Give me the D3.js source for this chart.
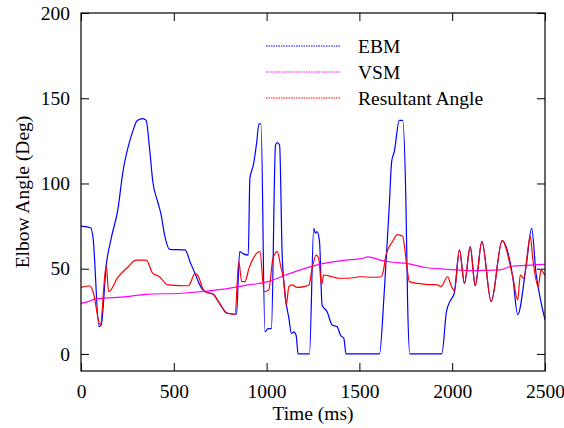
<!DOCTYPE html>
<html>
<head>
<meta charset="utf-8">
<script src="https://cdn.jsdelivr.net/npm/d3@7"></script>
<style>
  body { margin: 0; background: #fff; }
  text { font-family: "Liberation Serif", "Times New Roman", serif; font-size: 19.5px; fill: #000; }
</style>
</head>
<body>
<div id="chart"></div>
<script>
// values (time in ms, angle in degrees)
const ebmTime = [0, 52, 65, 97, 109, 136, 163, 199, 226, 253, 280, 303, 333, 351, 369, 387, 414, 432, 450, 477,
  561, 588, 615, 650, 669, 713, 740, 758, 785, 838, 855, 875, 901, 910, 929, 946, 959, 970, 991, 1005,
  1026, 1048, 1057, 1070, 1084, 1102, 1120, 1134, 1147, 1159, 1170, 1231, 1254, 1263, 1272, 1285, 1299, 1326, 1353, 1380,
  1398, 1416, 1428, 1608, 1634, 1661, 1674, 1688, 1715, 1733, 1751, 1760, 1772, 1944, 1969, 1987, 2011, 2039, 2066, 2097,
  2124, 2160, 2210, 2269, 2326, 2353, 2400, 2428, 2452, 2478, 2500];
const ebmAngle = [75, 74, 68, 16, 17, 52, 68, 85, 107, 121, 131, 137, 138, 137, 121, 101, 89, 81.5, 70, 61.4,
  61, 54, 47, 38.5, 36.5, 35, 30.7, 27.7, 24, 23.3, 60, 58.7, 58, 103, 111, 123.6, 135, 135, 13, 14.7,
  15, 122.6, 124, 122.6, 58, 32.6, 21, 12, 13, 11, 0, 0, 73.7, 70.8, 71.7, 66, 28.7, 24.8, 17, 16,
  11, 9.2, 0, 0, 36.5, 87, 113, 118.7, 137, 137, 87, 28.7, 0, 0, 24.8, 30.7, 35.6, 61, 41.4, 63,
  40, 66, 30.7, 66.5, 45.3, 23, 53, 73.7, 47, 30.7, 20];

const vsmTime = [0, 38, 74, 244, 351, 543, 767, 902, 1009, 1102, 1263, 1425, 1514, 1545, 1625, 1679, 1760, 1858, 1966,
  2120, 2254, 2326, 2443, 2500];
const vsmAngle = [29.7, 30.7, 32.2, 33.6, 35, 35.6, 38, 40.5, 42.4, 46.3, 52, 55, 56, 57, 54.7, 53.8, 53, 50.7, 49.7,
  48.9, 49.3, 51.6, 52.2, 52.6];

const resTime = [0, 47, 65, 104, 136, 149, 199, 253, 297, 351, 387, 423, 468, 579, 615, 633, 660, 669, 713, 740,
  758, 785, 830, 850, 866, 883, 905, 964, 987, 1012, 1034, 1057, 1075, 1093, 1106, 1120, 1138, 1165, 1201, 1228,
  1245, 1267, 1281, 1296, 1308, 1353, 1389, 1443, 1505, 1572, 1617, 1629, 1643, 1679, 1706, 1733, 1755, 1769, 1814, 1858,
  1921, 1939, 1975, 1993, 2012, 2039, 2066, 2097, 2124, 2160, 2210, 2269, 2326, 2353, 2367, 2385, 2421, 2434, 2464, 2478, 2500];
const resAngle = [39, 40, 36.5, 17, 52, 36.5, 45, 51, 55, 55, 47.3, 45.3, 40.5, 40, 47.3, 45.3, 37.5, 36.5, 35, 30.7,
  27.7, 24, 23.3, 54, 42.4, 42.4, 50.2, 60, 36.5, 37.5, 56, 60, 52, 42.4, 28.7, 39.5, 40.5, 39, 39.5, 40.5,
  50, 58, 56, 40.5, 46.3, 45.3, 44.4, 44.4, 45.3, 45, 45.3, 48.7, 58, 66, 70, 69, 52, 42.4, 41.4, 40.8,
  40.5, 39.5, 45.3, 40.5, 37, 61, 41.4, 63, 40, 66, 30.7, 66.5, 45.3, 31.7, 46.3, 44.4, 69, 56, 39.5, 49, 46];

const seriesNames = ["EBM", "VSM", "Resultant Angle"];
const seriesColors = ["#0000ff", "#ff00ff", "#ff0000"];
const xTicks = [0, 500, 1000, 1500, 2000, 2500];
const yTicks = [0, 50, 100, 150, 200];

const width = 564, height = 428;
const margin = {left: 81, right: 19, top: 13, bottom: 57};

const svg = d3.select("#chart").append("svg")
  .attr("width", width)
  .attr("height", height);

const x = d3.scaleLinear().domain([0, 2500]).range([margin.left, width - margin.right]);
const y = d3.scaleLinear().domain([-10, 200]).range([height - margin.bottom, margin.top]);

svg.append("clipPath").attr("id", "plotClip")
  .append("rect")
  .attr("x", x(0)).attr("y", y(200))
  .attr("width", x(2500) - x(0)).attr("height", y(-10) - y(200));

const series = [
  {t: ebmTime, v: ebmAngle},
  {t: vsmTime, v: vsmAngle},
  {t: resTime, v: resAngle}
];

const line = d3.line()
  .x(d => x(d[0]))
  .y(d => y(d[1]))
  .curve(d3.curveMonotoneX);

const plot = svg.append("g").attr("clip-path", "url(#plotClip)");
series.forEach((s, i) => {
  plot.append("path")
    .datum(s.t.map((t, j) => [t, s.v[j]]))
    .attr("d", line)
    .attr("fill", "none")
    .attr("stroke", seriesColors[i])
    .attr("stroke-width", 1.2);
});

// axes, ticks mirrored inward on all four sides
const tickLen = 8;
svg.append("g")
  .attr("transform", "translate(0," + y(-10) + ")")
  .call(d3.axisBottom(x).tickValues(xTicks).tickSize(-tickLen).tickPadding(13).tickFormat(d3.format("d")))
  .call(g => g.select(".domain").remove());
svg.append("g")
  .attr("transform", "translate(0," + y(200) + ")")
  .call(d3.axisTop(x).tickValues(xTicks).tickSize(-tickLen).tickFormat(""))
  .call(g => g.select(".domain").remove());
svg.append("g")
  .attr("transform", "translate(" + x(0) + ",0)")
  .call(d3.axisLeft(y).tickValues(yTicks).tickSize(-tickLen).tickPadding(11).tickFormat(d3.format("d")))
  .call(g => g.select(".domain").remove());
svg.append("g")
  .attr("transform", "translate(" + x(2500) + ",0)")
  .call(d3.axisRight(y).tickValues(yTicks).tickSize(-tickLen).tickFormat(""))
  .call(g => g.select(".domain").remove());

svg.selectAll(".tick text").style("font-size", "19.5px").attr("font-family", null);
svg.selectAll(".tick line").attr("stroke", "#000");

svg.append("rect")
  .attr("x", x(0)).attr("y", y(200))
  .attr("width", x(2500) - x(0)).attr("height", y(-10) - y(200))
  .attr("fill", "none").attr("stroke", "#000").attr("stroke-width", 1.2);

// axis titles
svg.append("text")
  .attr("x", (x(0) + x(2500)) / 2).attr("y", 420)
  .attr("text-anchor", "middle")
  .text("Time (ms)");
svg.append("text")
  .attr("transform", "translate(22," + ((y(200) + y(-10)) / 2) + ") rotate(-90)")
  .attr("text-anchor", "middle")
  .attr("dominant-baseline", "central")
  .text("Elbow Angle (Deg)");

// legend
const legend = svg.append("g");
seriesNames.forEach((name, i) => {
  const ly = 46 + i * 26;
  legend.append("line")
    .attr("x1", 266).attr("x2", 341)
    .attr("y1", ly).attr("y2", ly)
    .attr("stroke", seriesColors[i])
    .attr("stroke-width", 1)
    .attr("stroke-dasharray", "1.5,1");
  legend.append("text")
    .attr("x", 358).attr("y", ly)
    .attr("dominant-baseline", "central")
    .text(name);
});
</script>
</body>
</html>
